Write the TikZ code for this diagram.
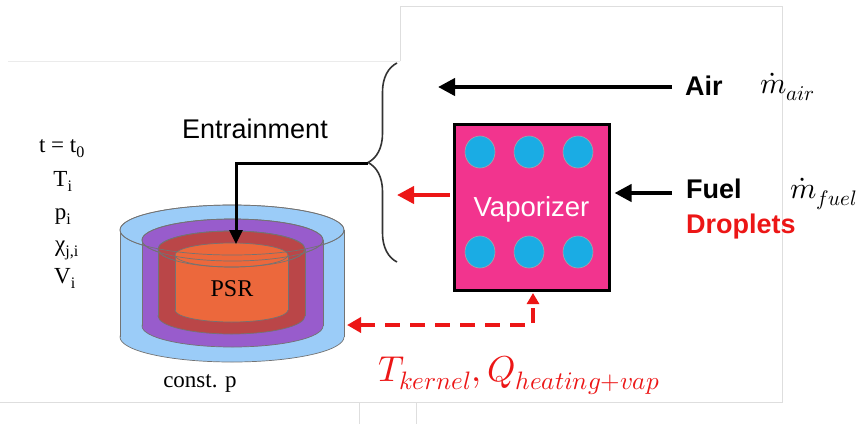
\documentclass[tikz,border=0pt]{standalone}
\usepackage{amsmath}
\usepackage{unicode-math}
\setmainfont{Liberation Serif}
\setsansfont{Liberation Sans}
\setmathfont{Latin Modern Math}
\usepackage{tikz}
\usetikzlibrary{arrows.meta,decorations.pathreplacing}

\definecolor{shellblue}{RGB}{155,204,248}
\definecolor{shellpurple}{RGB}{152,92,204}
\definecolor{shellbrick}{RGB}{186,70,72}
\definecolor{coreorange}{RGB}{236,104,60}
\definecolor{vappink}{RGB}{242,52,142}
\definecolor{dropcyan}{RGB}{26,172,228}
\definecolor{framegray}{RGB}{222,222,222}
\definecolor{heatred}{RGB}{236,22,22}

% One shell of the reactor: colour, centre x, half width, y radius, top y, bottom y
\newcommand{\drumlayer}[6]{%
  \filldraw[fill=#1, draw=black!55, line width=0.7pt] (#2,#6) ellipse [x radius=#3, y radius=#4];
  \fill[#1] (#2-#3,#5) rectangle (#2+#3,#6);
  \draw[black!55, line width=0.7pt] (#2-#3,#5) -- (#2-#3,#6) (#2+#3,#5) -- (#2+#3,#6);
  \filldraw[fill=#1, draw=black!55, line width=0.7pt] (#2,#5) ellipse [x radius=#3, y radius=#4];
}

\begin{document}
\begin{tikzpicture}[x=1pt, y=-1pt,
    stat/.style={anchor=base, inner sep=0pt, font=\fontsize{23}{25}\selectfont},
    label/.style={anchor=base west, inner sep=0pt, font=\sffamily\bfseries\fontsize{27}{30}\selectfont},
    rate/.style={anchor=base west, inner sep=0pt, font=\fontsize{30}{32}\selectfont},
    flow/.style={line width=4pt, -{Triangle[length=17pt,width=17pt]}},
    redflow/.style={flow, heatred},
    entrain/.style={line width=3pt, -{Triangle[length=14pt,width=13pt]}},
    heatloop/.style={heatred, line width=4pt, dash pattern=on 15pt off 10pt}]

    \useasboundingbox (0,0) rectangle (859,424);

    % Faint edges of the pasted panels.
    \draw[framegray, line width=0.6pt] (400,61) -- (400,6) -- (782,6) -- (782,402) -- (0,402);
    \draw[framegray!60, line width=0.6pt] (8,61) -- (400,61);
    \draw[framegray, line width=0.6pt] (359,402) -- (359,424) (416,402) -- (416,424);

    % Initial state of the reactor.
    \node[stat] (tzero) at (62,152) {t = t\textsubscript{0}};
    \node[stat] (temp) at (63,186) {T\textsubscript{i}};
    \node[stat] (pres) at (63,219) {p\textsubscript{i}};
    \node[stat] (frac) at (67,251) {χ\textsubscript{j,i}};
    \node[stat] (vol) at (65,283) {V\textsubscript{i}};

    % Nested shells of the reactor, outside in.
    \drumlayer{shellblue}{232}{112}{25}{230}{337}
    \drumlayer{shellpurple}{232.5}{90.5}{21}{240}{326}
    \drumlayer{shellbrick}{231.5}{73.5}{18}{249}{316}
    \drumlayer{coreorange}{231.5}{56.5}{12}{255}{310}
    \foreach \cx/\a/\ry/\yt in {232/112/25/230, 232.5/90.5/21/240, 231.5/73.5/18/249}
        \draw[black!55, line width=0.7pt] (\cx,\yt) ellipse [x radius=\a, y radius=\ry];

    \node[stat, font=\fontsize{24}{26}\selectfont] (psr) at (232,296) {PSR};
    \node[stat, font=\fontsize{23}{25}\selectfont] (constp) at (200,387) {const. p};

    % Brace gathering air and vapour.
    \draw[black!80, line width=1.6pt, decorate, decoration={brace, amplitude=29pt}] (397,262) -- (397,63);
    \coordinate (bracetip) at (368,163);
    \coordinate (psrtop) at (236,244);

    \node[anchor=base west, inner sep=0pt, font=\sffamily\fontsize{27}{30}\selectfont] (entr) at (182,138) {Entrainment};
    \draw[entrain] (bracetip) -| (psrtop);

    % Vaporizer box with droplets.
    \node[draw=black, line width=3pt, fill=vappink, minimum width=155pt, minimum height=166pt,
          text=white, text depth=0pt, font=\sffamily\fontsize{27.5}{30}\selectfont] (vap) at (531.5,207) {Vaporizer};
    \foreach \dx in {480,529,578}
        \foreach \dy in {152,252}
            \filldraw[fill=dropcyan, draw=gray!70, line width=0.6pt] (\dx,\dy) ellipse [x radius=15, y radius=16];

    % Inflows on the right.
    \node[label] (air) at (685,95) {Air};
    \node[rate] (mair) at (760,93) {$\dot{m}_{air}$};
    \coordinate (airin) at (672,87);
    \coordinate (airtip) at (438,87);
    \draw[flow] (airin) -- (airtip);

    \node[label] (fuel) at (686,198) {Fuel};
    \node[rate] (mfuel) at (790,198) {$\dot{m}_{fuel}$};
    \node[label, text=heatred] (drops) at (686,233) {Droplets};
    \coordinate (fuelin) at (672,193);
    \draw[flow] (fuelin) -- ([xshift=4pt]vap.east |- fuelin);

    % Vapour leaving to the left.
    \coordinate (vapout) at (397,195);
    \draw[redflow] ([xshift=-3pt]vap.west |- vapout) -- (vapout);

    % Heat exchange between the kernel and the vaporizer.
    \coordinate (shellright) at (347,325);
    \coordinate (vapbottom) at (533,293);
    \draw[heatloop, {Triangle[length=14pt,width=15pt]}-{Triangle[length=11pt,width=12pt]}] (shellright) -| (vapbottom);
    \node[anchor=base, inner sep=0pt, text=heatred, font=\fontsize{36}{38}\selectfont] (heat) at (519,381)
        {$T_{kernel}, Q_{heating+vap}$};
\end{tikzpicture}
\end{document}
